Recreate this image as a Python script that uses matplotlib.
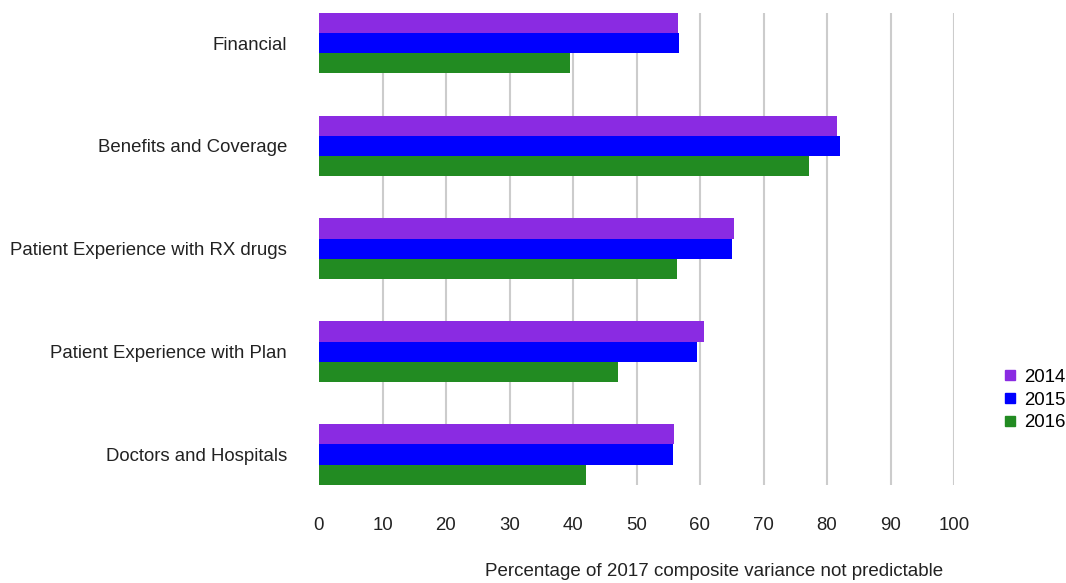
import matplotlib
matplotlib.use("Agg")
import matplotlib.pyplot as plt
import numpy as np
from matplotlib.lines import Line2D

categories = ["Financial", "Benefits and Coverage", "Patient Experience with RX drugs",
              "Patient Experience with Plan", "Doctors and Hospitals"]
years = ["2014", "2015", "2016"]
vals_2014 = [56.5, 81.6, 65.4, 60.7, 55.9]
vals_2015 = [56.7, 82.1, 65.0, 59.6, 55.8]
vals_2016 = [39.5, 77.2, 56.3, 47.1, 42.0]
colors = ["#8A2BE2", "#0000FF", "#228B22"]
x_ticks = list(range(0, 101, 10))

plt.rcParams["font.family"] = ["Liberation Sans", "DejaVu Sans"]

fig = plt.figure(figsize=(10.66, 5.83), dpi=100)
ax = fig.add_axes([319 / 1066, 1 - 485 / 583, (954 - 319) / 1066, (485 - 12.7) / 583])

h = 0.197
y = np.arange(len(categories))
for i, (vals, c) in enumerate(zip([vals_2014, vals_2015, vals_2016], colors)):
    ax.barh(y + (i - 1) * h, vals, height=h, color=c, zorder=3)

ax.set_xlim(0, 100)
ax.set_ylim(len(categories) - 1 + 1.5 * h, -1.5 * h)
ax.set_xticks(x_ticks)
ax.set_yticks(y)
ax.set_yticklabels(categories)
for gx in x_ticks[1:]:
    ax.axvline(gx, color="#cccccc", lw=1.5, zorder=1)
for s in ax.spines.values():
    s.set_visible(False)
ax.tick_params(axis="both", length=0, labelsize=13.4, colors="#222222")
ax.tick_params(axis="x", pad=23)
ax.tick_params(axis="y", pad=23)

fig.text(714 / 1066, 1 - 572 / 583, "Percentage of 2017 composite variance not predictable",
         ha="center", va="center", fontsize=13.5, color="#222222")

handles = [Line2D([], [], marker="s", ls="none", color=c, markersize=7) for c in colors]
fig.legend(handles, years, loc="center left", bbox_to_anchor=(993 / 1066, 1 - 400 / 583),
           frameon=False, fontsize=13.4, handletextpad=0.25, labelspacing=0.3,
           handlelength=1.0, borderaxespad=0)

fig.savefig("out.png", dpi=100)
